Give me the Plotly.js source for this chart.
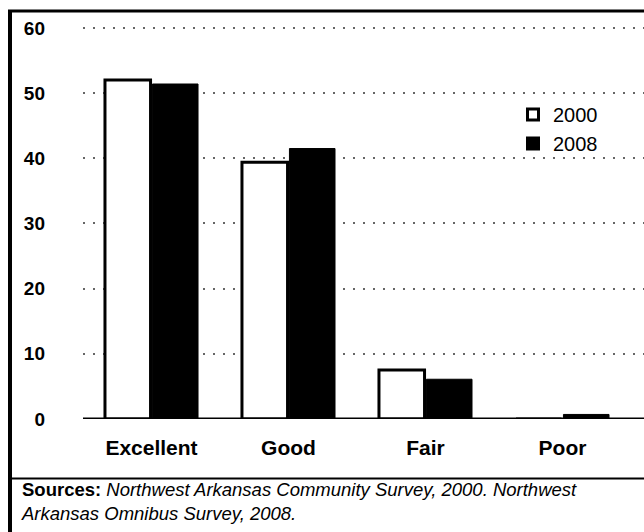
<!DOCTYPE html>
<html>
<head>
<meta charset="utf-8">
<script src="https://cdn.plot.ly/plotly-3.0.1.min.js"></script>
<style>html,body{margin:0;padding:0;background:#fff;}#chart{width:644px;height:532px;}</style>
</head>
<body>
<div id="chart"></div>
<script>
const categories = ["Excellent", "Good", "Fair", "Poor"];
const series2000 = [52.0, 39.4, 7.5, 0];
const series2008 = [51.4, 41.5, 6.1, 0.7];
const yTicks = [0, 10, 20, 30, 40, 50, 60];
const seriesNames = ["2000", "2008"];
const sourceText = "<b>Sources:</b> <i>Northwest Arkansas Community Survey, 2000. Northwest</i><br><i>Arkansas Omnibus Survey, 2008.</i>";

const W = 644, H = 532, L = 83, R = 0, T = 26, B = 113;
const pw = W - L - R, ph = H - T - B;
const px = x => (x - L) / pw;
const py = y => (H - B - y) / ph;
const FONT = "Liberation Sans, Arial, Helvetica, sans-serif";

const traces = [
  {type: "bar", x: categories, y: series2000, name: seriesNames[0], showlegend: false,
   marker: {color: "#ffffff", line: {color: "#000", width: 3}}},
  {type: "bar", x: categories, y: series2008, name: seriesNames[1], showlegend: false,
   marker: {color: "#000000", line: {color: "#000", width: 1}}},
  {type: "scatter", mode: "markers", x: [null], y: [null], name: seriesNames[0],
   marker: {symbol: "square", size: 11, color: "#fff", line: {color: "#000", width: 3}}},
  {type: "scatter", mode: "markers", x: [null], y: [null], name: seriesNames[1],
   marker: {symbol: "square", size: 14, color: "#000", line: {color: "#000", width: 0}}}
];

const layout = {
  width: W, height: H,
  margin: {l: L, r: R, t: T, b: B, pad: 0},
  paper_bgcolor: "#fff", plot_bgcolor: "#fff",
  font: {family: FONT, color: "#000"},
  barmode: "group", bargap: 0.307, bargroupgap: 0.04,
  showlegend: true,
  legend: {x: px(513), y: py(95), xanchor: "left", yanchor: "top",
           font: {size: 20, family: FONT, color: "#000"}, bgcolor: "rgba(0,0,0,0)",
           tracegroupgap: 0, itemwidth: 30},
  xaxis: {type: "category", range: [-0.5, 3.595], showgrid: false, zeroline: false,
          showline: false, ticks: "", ticklabelstandoff: 14,
          tickfont: {size: 21, family: FONT, color: "#000", weight: "bold"}},
  yaxis: {range: [0, 60.3], tickvals: yTicks, ticktext: yTicks.map(String),
          showgrid: true, gridcolor: "#666", gridwidth: 2, griddash: "2px,8px",
          zeroline: false, showline: false, ticks: "", ticklabelstandoff: 37,
          tickfont: {size: 19, family: FONT, color: "#000", weight: "bold"}},
  shapes: [
    {type: "line", xref: "paper", yref: "y", x0: 0, x1: 1, y0: 0, y1: 0,
     line: {color: "#000", width: 3}, layer: "above"},
    {type: "line", xref: "paper", yref: "paper", x0: px(8), x1: px(650), y0: py(11), y1: py(11),
     line: {color: "#000", width: 3}},
    {type: "line", xref: "paper", yref: "paper", x0: px(10), x1: px(10), y0: py(10), y1: py(540),
     line: {color: "#000", width: 4}},
    {type: "line", xref: "paper", yref: "paper", x0: px(10), x1: px(650), y0: py(478.5), y1: py(478.5),
     line: {color: "#000", width: 2}}
  ],
  annotations: [
    {xref: "paper", yref: "paper", x: px(19), y: py(501), xanchor: "left", yanchor: "middle",
     align: "left", showarrow: false, font: {size: 18.5, family: FONT, color: "#000"},
     text: sourceText}
  ]
};

Plotly.newPlot("chart", traces, layout, {displayModeBar: false, staticPlot: true});
</script>
</body>
</html>
